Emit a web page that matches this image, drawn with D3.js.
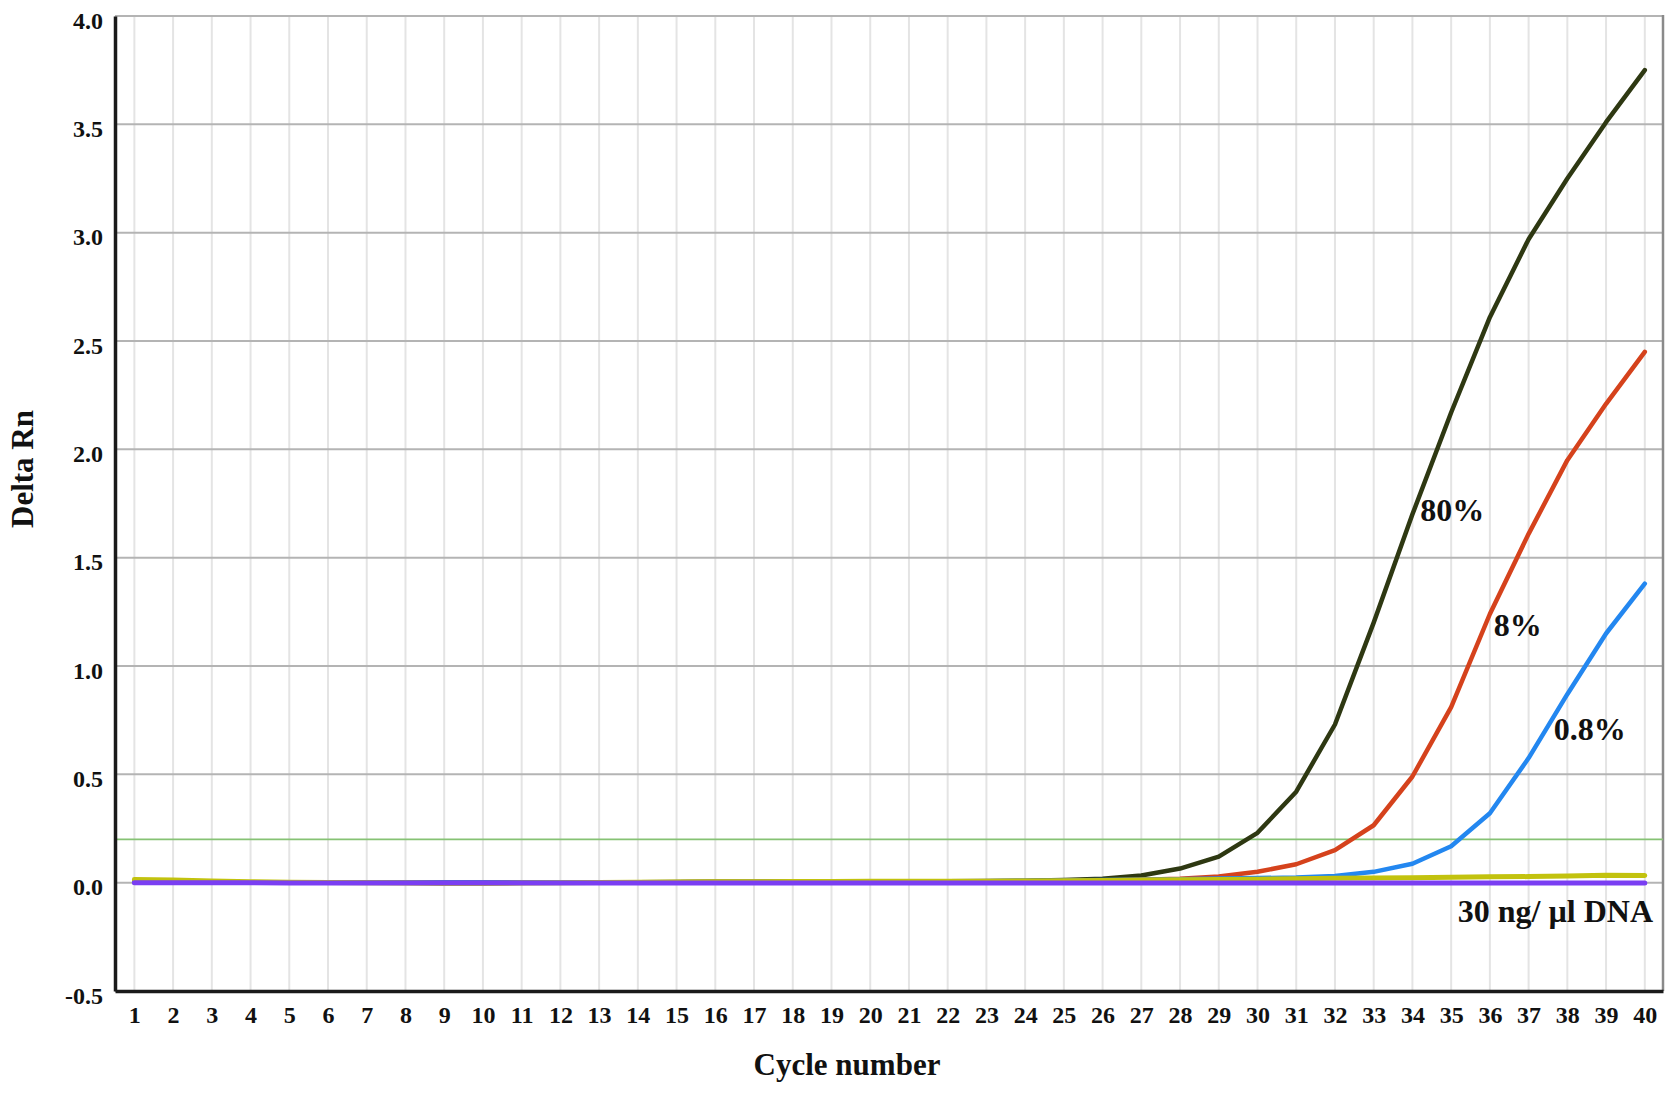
<!DOCTYPE html>
<meta charset="utf-8" />
<style>
  body {
    margin: 0px;
    padding: 0px;
    background: #fff;
  }
  svg {
    display: block;
  }
  text {
    font-family: "Liberation Serif", "Times New Roman", serif;
    font-weight: bold;
    fill: #111;
  }
  .grid-x line {
    stroke: #e4e4e4;
    stroke-width: 2px;
  }
  .grid-y line {
    stroke: #b4b4b4;
    stroke-width: 2px;
  }
  .curves path {
    fill: none;
    stroke-linejoin: round;
    stroke-linecap: round;
  }
</style>

<svg width="1677" height="1093"></svg>

<script src="https://d3js.org/d3.v7.min.js"></script>
<script>
  // cycle numbers on the x axis
  const cycles = [
    1, 2, 3, 4, 5, 6, 7, 8, 9, 10, 11, 12, 13, 14, 15, 16, 17, 18, 19, 20,
    21, 22, 23, 24, 25, 26, 27, 28, 29, 30, 31, 32, 33, 34, 35, 36, 37, 38, 39, 40,
  ];
  const yTicks = [-0.5, 0.0, 0.5, 1.0, 1.5, 2.0, 2.5, 3.0, 3.5, 4.0];
  const threshold = 0.2;

  // delta Rn per cycle
  const s80 = [
    0.004, 0.003, 0.002, 0.001, 0.001, 0.001, 0.001, 0.001, 0.001, 0.001,
    0.002, 0.002, 0.002, 0.002, 0.003, 0.004, 0.004, 0.004, 0.005, 0.006,
    0.007, 0.007, 0.008, 0.009, 0.012, 0.018, 0.033, 0.065, 0.12, 0.23,
    0.42, 0.73, 1.2, 1.7, 2.17, 2.61, 2.97, 3.25, 3.51, 3.75,
  ];
  const s8 = [
    0.003, 0.002, 0.002, 0.001, 0.001, 0.001, 0.001, 0.001, 0.001, 0.001,
    0.001, 0.002, 0.002, 0.002, 0.002, 0.003, 0.003, 0.003, 0.004, 0.004,
    0.005, 0.005, 0.006, 0.007, 0.008, 0.01, 0.013, 0.018, 0.028, 0.05,
    0.085, 0.15, 0.265, 0.49, 0.81, 1.24, 1.61, 1.95, 2.21, 2.45,
  ];
  const s08 = [
    0.003, 0.002, 0.002, 0.001, 0.001, 0.001, 0.001, 0.001, 0.001, 0.001,
    0.001, 0.002, 0.002, 0.002, 0.002, 0.003, 0.003, 0.003, 0.004, 0.004,
    0.006, 0.006, 0.007, 0.008, 0.01, 0.012, 0.014, 0.016, 0.019, 0.021,
    0.024, 0.031, 0.05, 0.087, 0.168, 0.32, 0.575, 0.87, 1.15, 1.38,
  ];
  const sNeg = [
    0.015, 0.012, 0.008, 0.004, 0.002, 0.001, 0.0, -0.002, -0.004, -0.004,
    -0.002, 0.0, 0.001, 0.002, 0.003, 0.004, 0.004, 0.005, 0.005, 0.006,
    0.007, 0.007, 0.007, 0.008, 0.009, 0.01, 0.012, 0.014, 0.015, 0.016,
    0.018, 0.02, 0.022, 0.023, 0.025, 0.027, 0.028, 0.031, 0.034, 0.033,
  ];
  const sDna = [
    0.0, 0.0, 0.0, 0.0, -0.001, -0.001, -0.001, -0.001, -0.001, -0.001,
    -0.001, -0.001, -0.001, -0.001, -0.001, -0.001, -0.001, -0.001, -0.001, -0.001,
    -0.001, -0.001, -0.001, -0.001, -0.001, -0.001, -0.001, -0.001, -0.001, -0.001,
    -0.001, -0.001, -0.001, -0.001, -0.001, -0.001, -0.001, -0.001, -0.001, -0.001,
  ];

  const seriesNames = ["80%", "8%", "0.8%", "neg", "30 ng/ µl DNA"];
  const seriesValues = [s80, s8, s08, sNeg, sDna];
  const seriesColors = ["#2e3812", "#d5421c", "#2387f0", "#c2c20e", "#7a3ef2"];
  const seriesWidths = [4.5, 4.5, 4.5, 5, 5];

  // in-plot labels: [text, cycle, value]
  const labels = [
    ["80%", 34.2, 1.67],
    ["8%", 36.1, 1.14],
    ["0.8%", 37.65, 0.66],
    ["30 ng/ µl DNA", 35.17, -0.18],
  ];

  const svg = d3.select("svg");

  const x = d3.scaleLinear().domain([0.5, 40.47]).range([115, 1663]);
  const y = d3.scaleLinear().domain([-0.5, 4.0]).range([991, 16]);

  // vertical light grid at every cycle
  svg
    .append("g")
    .attr("class", "grid-x")
    .selectAll("line")
    .data(cycles)
    .enter()
    .append("line")
    .attr("x1", (d) => x(d))
    .attr("x2", (d) => x(d))
    .attr("y1", y(4.0))
    .attr("y2", y(-0.5));

  // horizontal grid every 0.5
  svg
    .append("g")
    .attr("class", "grid-y")
    .selectAll("line")
    .data(yTicks)
    .enter()
    .append("line")
    .attr("x1", x.range()[0])
    .attr("x2", x.range()[1])
    .attr("y1", (d) => y(d))
    .attr("y2", (d) => y(d));

  // right border
  svg
    .append("line")
    .attr("x1", x.range()[1])
    .attr("x2", x.range()[1])
    .attr("y1", y(4.0) - 1)
    .attr("y2", y(-0.5))
    .attr("stroke", "#8a8a8a")
    .attr("stroke-width", 2.5);

  // threshold line
  svg
    .append("line")
    .attr("x1", x.range()[0])
    .attr("x2", x.range()[1])
    .attr("y1", y(threshold))
    .attr("y2", y(threshold))
    .attr("stroke", "#86c274")
    .attr("stroke-width", 1.6);

  const line = d3
    .line()
    .x((d, i) => x(cycles[i]))
    .y((d) => y(d));

  svg
    .append("g")
    .attr("class", "curves")
    .selectAll("path")
    .data(seriesValues)
    .enter()
    .append("path")
    .attr("d", line)
    .attr("stroke", (d, i) => seriesColors[i])
    .attr("stroke-width", (d, i) => seriesWidths[i]);

  // axes (left and bottom are drawn heavy)
  const xAxis = d3.axisBottom(x).tickValues(cycles).tickSize(0).tickPadding(0);
  const gx = svg
    .append("g")
    .attr("transform", `translate(0,${y(-0.5)})`)
    .call(xAxis);
  gx.select(".domain").attr("stroke", "#1a1a1a").attr("stroke-width", 3.5);
  gx.selectAll("text")
    .attr("y", 32)
    .attr("dy", 0)
    .style("font-size", "24px")
    .style("font-family", '"Liberation Serif", serif')
    .attr("fill", "#111");

  const fmt = d3.format(".1f");
  const yAxis = d3
    .axisLeft(y)
    .tickValues(yTicks)
    .tickFormat((d) => fmt(d).replace("\u2212", "-"))
    .tickSize(0)
    .tickPadding(0);
  const gy = svg
    .append("g")
    .attr("transform", `translate(${x(0.5)},0)`)
    .call(yAxis);
  gy.select(".domain").attr("stroke", "#1a1a1a").attr("stroke-width", 3.5);
  gy.selectAll("text")
    .attr("x", -12)
    .attr("dy", 12)
    .style("font-size", "24px")
    .style("font-family", '"Liberation Serif", serif')
    .attr("fill", "#111");

  // axis titles
  svg
    .append("text")
    .attr("x", 847)
    .attr("y", 1075)
    .attr("text-anchor", "middle")
    .style("font-size", "31px")
    .text("Cycle number");

  svg
    .append("text")
    .attr("transform", "translate(33,469) rotate(-90)")
    .attr("text-anchor", "middle")
    .style("font-size", "31px")
    .text("Delta Rn");

  // curve labels
  svg
    .append("g")
    .selectAll("text")
    .data(labels)
    .enter()
    .append("text")
    .attr("x", (d) => x(d[1]))
    .attr("y", (d) => y(d[2]))
    .style("font-size", "32px")
    .text((d) => d[0]);
</script>
